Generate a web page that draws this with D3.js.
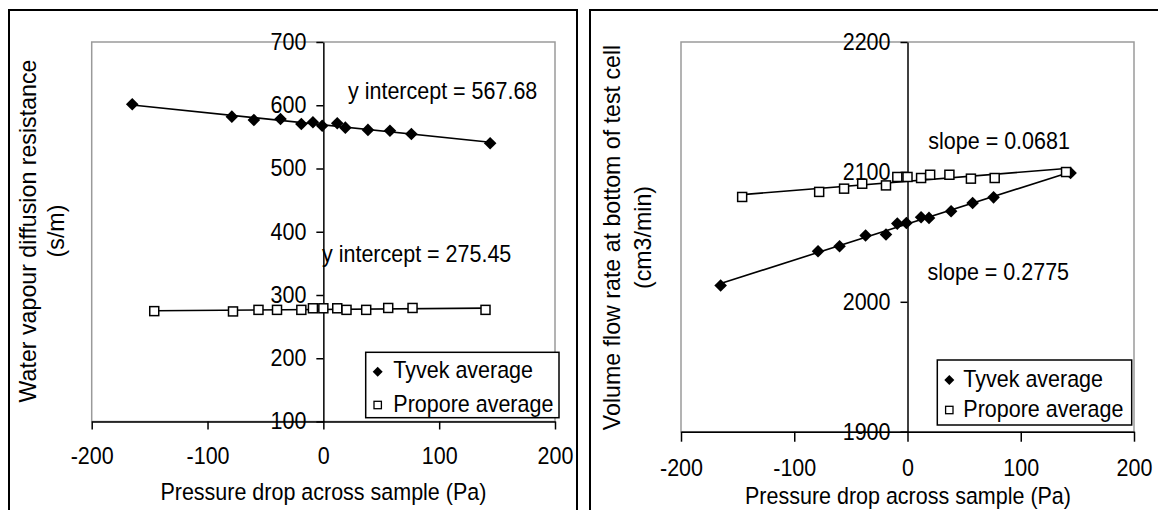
<!DOCTYPE html>
<html><head><meta charset="utf-8">
<script src="https://cdn.jsdelivr.net/npm/d3@7"></script>
<style>
html,body{margin:0;padding:0;background:#fff;}
svg{display:block;font-family:"Liberation Sans",Arial,sans-serif;}
</style></head><body>
<svg id="chart" width="1158" height="510"></svg>
<script>
// ---- data ----
const seriesNames = ["Tyvek average", "Propore average"];
const tyvekPressure   = [-165, -79, -60, -37, -19, -9, -1, 12, 19, 38.5, 57.5, 76, 144];
const proporePressure = [-146, -78, -56, -40, -19, -9, 0, 12, 20, 37, 56, 77, 140];
const tyvekResistance   = [601.5, 582, 576.7, 578.3, 570.4, 573.1, 567.7, 571.5, 564.6, 561, 559.8, 554.6, 539.9];
const proporeResistance = [274.5, 274, 276.5, 276.5, 276.5, 279, 279, 279, 276.5, 276.5, 279.5, 279.5, 276.5];
const tyvekFlow   = [2012.6, 2038.9, 2042.8, 2051, 2051.8, 2060.2, 2060.7, 2065.1, 2064.6, 2069.7, 2076.1, 2080.4, 2099.2];
const proporeFlow = [2080.7, 2084.6, 2087.1, 2090.9, 2089.6, 2096.1, 2096.1, 2095.3, 2097.8, 2097.8, 2094.8, 2095.3, 2099.9];
const pressureTicks = [-200, -100, 0, 100, 200];
const resistanceTicks = [100, 200, 300, 400, 500, 600, 700];
const flowTicks = [1900, 2000, 2100, 2200];
const xTitle = "Pressure drop across sample (Pa)";
const resistanceTitle = ["Water vapour diffusion resistance", "(s/m)"];
const flowTitle = ["Volume flow rate at bottom of test cell", "(cm3/min)"];
const resistanceNotes = ["y intercept = 567.68", "y intercept = 275.45"];
const flowNotes = ["slope = 0.0681", "slope = 0.2775"];

const svg = d3.select("#chart");
const FS = 21.5;
const STRETCH = 1.08;

function fit(xs, ys) {
  const mx = d3.mean(xs), my = d3.mean(ys);
  let num = 0, den = 0;
  xs.forEach((x, i) => { num += (x - mx) * (ys[i] - my); den += (x - mx) * (x - mx); });
  const b = num / den;
  return { slope: b, intercept: my - b * mx };
}

function diamondPath(cx, cy, r) {
  return `M${cx},${cy - r}L${cx + r},${cy}L${cx},${cy + r}L${cx - r},${cy}Z`;
}

// slight vertical stretch of horizontal text, as in the reference image
function stretch(sel) {
  sel.each(function () {
    const t = d3.select(this);
    const x = +t.attr("x") || 0, y = +t.attr("y") || 0;
    t.attr("x", 0).attr("y", 0).attr("transform", `translate(${x},${y}) scale(1,${STRETCH})`);
  });
}

function drawPanel(cfg) {
  const g = svg.append("g");
  g.append("rect").attr("x", cfg.frame[0]).attr("y", cfg.frame[1])
    .attr("width", cfg.frame[2]).attr("height", cfg.frame[3])
    .attr("fill", "none").attr("stroke", "#000").attr("stroke-width", 2);

  const x = d3.scaleLinear().domain([pressureTicks[0], pressureTicks[pressureTicks.length - 1]]).range([cfg.plot.x0, cfg.plot.x1]);
  const y = d3.scaleLinear().domain([cfg.yTicks[0], cfg.yTicks[cfg.yTicks.length - 1]]).range([cfg.plot.y1, cfg.plot.y0]);

  g.append("rect").attr("x", cfg.plot.x0).attr("y", cfg.plot.y0)
    .attr("width", cfg.plot.x1 - cfg.plot.x0).attr("height", cfg.plot.y1 - cfg.plot.y0)
    .attr("fill", "none").attr("stroke", "#9a9a9a").attr("stroke-width", 1.5);

  const fmt = d => String(d);
  const xa = g.append("g").attr("transform", `translate(0,${cfg.plot.y1})`)
    .call(d3.axisBottom(x).tickValues(pressureTicks).tickSizeInner(cfg.xTickSize).tickSizeOuter(0).tickPadding(cfg.xPad).tickFormat(fmt));
  const ya = g.append("g").attr("transform", `translate(${x(0)},0)`)
    .call(d3.axisLeft(y).tickValues(cfg.yTicks).tickSizeInner(7).tickSizeOuter(0).tickPadding(10).tickFormat(fmt));
  [xa, ya].forEach(a => {
    a.selectAll("path.domain").attr("stroke", "#000").attr("stroke-width", 1.5);
    a.selectAll(".tick line").attr("stroke", "#000").attr("stroke-width", 1.5);
    a.selectAll("text").attr("font-size", FS).attr("font-family", "Liberation Sans, Arial, sans-serif").attr("fill", "#000");
    stretch(a.selectAll("text"));
  });

  stretch(g.append("text").attr("x", cfg.xTitle[0]).attr("y", cfg.xTitle[1])
    .attr("text-anchor", "middle").attr("font-size", FS).text(xTitle));
  cfg.yTitle.forEach((t, i) => {
    g.append("text")
      .attr("transform", `translate(${cfg.yTitleX[i]},${cfg.yTitleY}) rotate(-90)`)
      .attr("text-anchor", "middle").attr("dy", "0.35em")
      .attr("font-size", 23.2).text(t);
  });

  cfg.series.forEach(s => {
    const f = fit(s.xs, s.ys);
    const xmin = d3.min(s.xs), xmax = d3.max(s.xs);
    g.append("line")
      .attr("x1", x(xmin)).attr("y1", y(f.intercept + f.slope * xmin))
      .attr("x2", x(xmax)).attr("y2", y(f.intercept + f.slope * xmax))
      .attr("stroke", "#000").attr("stroke-width", 1.6);
  });
  cfg.series.forEach((s, si) => {
    const pts = s.xs.map((v, i) => [v, s.ys[i]]);
    if (si === 0) {
      g.append("g").selectAll("path").data(pts).join("path")
        .attr("d", d => diamondPath(x(d[0]), y(d[1]), 6.3)).attr("fill", "#000");
    } else {
      g.append("g").selectAll("rect").data(pts).join("rect")
        .attr("x", d => x(d[0]) - 4.5).attr("y", d => y(d[1]) - 4.5)
        .attr("width", 9).attr("height", 9)
        .attr("fill", "#fff").attr("stroke", "#000").attr("stroke-width", 1.5);
    }
  });

  cfg.notes.forEach((n, i) => {
    stretch(g.append("text").attr("x", cfg.notePos[i][0]).attr("y", cfg.notePos[i][1])
      .attr("font-size", FS).text(n));
  });

  const L = cfg.legend;
  const lg = g.append("g");
  lg.append("rect").attr("x", L.x).attr("y", L.y).attr("width", L.w).attr("height", L.h)
    .attr("fill", "#fff").attr("stroke", "#000").attr("stroke-width", 1.5);
  lg.append("path").attr("d", diamondPath(L.mx, L.rows[0], 5)).attr("fill", "#000");
  lg.append("rect").attr("x", L.mx - 3.7).attr("y", L.rows[1] - 3.7).attr("width", 7.4).attr("height", 7.4)
    .attr("fill", "#fff").attr("stroke", "#000").attr("stroke-width", 1.3);
  seriesNames.forEach((nm, i) => {
    stretch(lg.append("text").attr("x", L.tx).attr("y", L.base[i]).attr("font-size", FS).text(nm));
  });
}

drawPanel({
  frame: [9, 10, 568, 530],
  plot: { x0: 91.7, x1: 555, y0: 42, y1: 421.5 },
  yTicks: resistanceTicks,
  xTickSize: 8, xPad: 18,
  xTitle: [323.4, 500],
  yTitle: resistanceTitle, yTitleX: [28, 56], yTitleY: 231,
  series: [{ xs: tyvekPressure, ys: tyvekResistance }, { xs: proporePressure, ys: proporeResistance }],
  notes: resistanceNotes, notePos: [[348, 99], [322, 261.5]],
  legend: { x: 365.7, y: 352.3, w: 193.3, h: 65.4, mx: 377.7, tx: 393.3, rows: [371.7, 405], base: [378.3, 411.7] }
});

drawPanel({
  frame: [590, 10, 600, 530],
  plot: { x0: 681, x1: 1134, y0: 42, y1: 431.7 },
  yTicks: flowTicks,
  xTickSize: 10, xPad: 18,
  xTitle: [908, 504],
  yTitle: flowTitle, yTitleX: [611.7, 643], yTitleY: 237.5,
  series: [{ xs: tyvekPressure, ys: tyvekFlow }, { xs: proporePressure, ys: proporeFlow }],
  notes: flowNotes, notePos: [[928.3, 149], [927.5, 280]],
  legend: { x: 937.3, y: 360, w: 194.4, h: 65, mx: 949.3, tx: 963.3, rows: [380, 410], base: [386.7, 416.5] }
});
</script>
</body></html>
